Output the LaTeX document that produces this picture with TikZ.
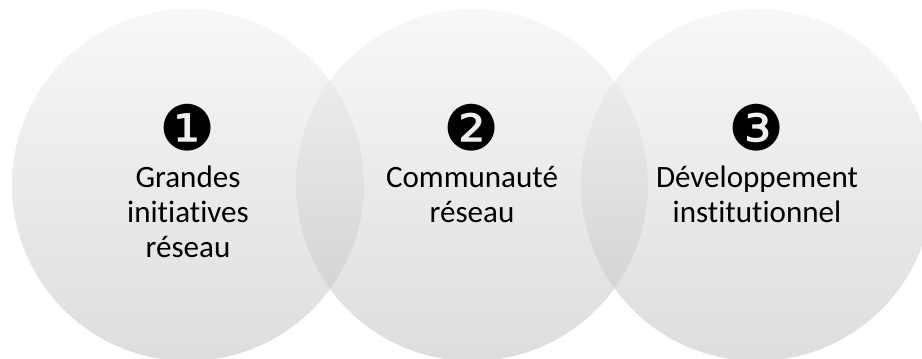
\documentclass[tikz,border=0pt]{standalone}
\usepackage{fontspec}
\setmainfont[Ligatures=NoCommon]{Carlito}
\newfontfamily\symfont{DejaVu Sans}
\definecolor{ctop}{HTML}{F0F0F0}
\definecolor{cbot}{HTML}{BCBCBC}
\begin{document}
\begin{tikzpicture}[x=0.75pt,y=-0.75pt,
  ring/.style={circle, minimum size=264pt, inner sep=0pt, draw=none,
    top color=ctop, bottom color=cbot, fill opacity=0.5},
  lbl/.style={font=\fontsize{23.3}{26.25}\selectfont, align=center, text=black, inner sep=0pt, anchor=base},
  num/.style={font=\symfont\fontsize{47}{47}\selectfont, inner sep=0pt, text=black}]
\useasboundingbox (0,0) rectangle (922,358);
\begin{scope}
\clip (0,0) rectangle (922,358);
\node[ring] (c1) at (188,185) {};
\node[ring] (c2) at (472,185) {};
\node[ring] (c3) at (757,185) {};
\end{scope}
\node[num] (n1) at (188,128) {❶};
\node[num] (n2) at (472,128) {❷};
\node[num] (n3) at (757,128) {❸};
\node[lbl] (t1) at (188,257) {Grandes\\initiatives\\réseau};
\node[lbl] (t2) at (472,222) {Communauté\\réseau};
\node[lbl] (t3) at (757,222) {Développement\\institutionnel};
\end{tikzpicture}
\end{document}
